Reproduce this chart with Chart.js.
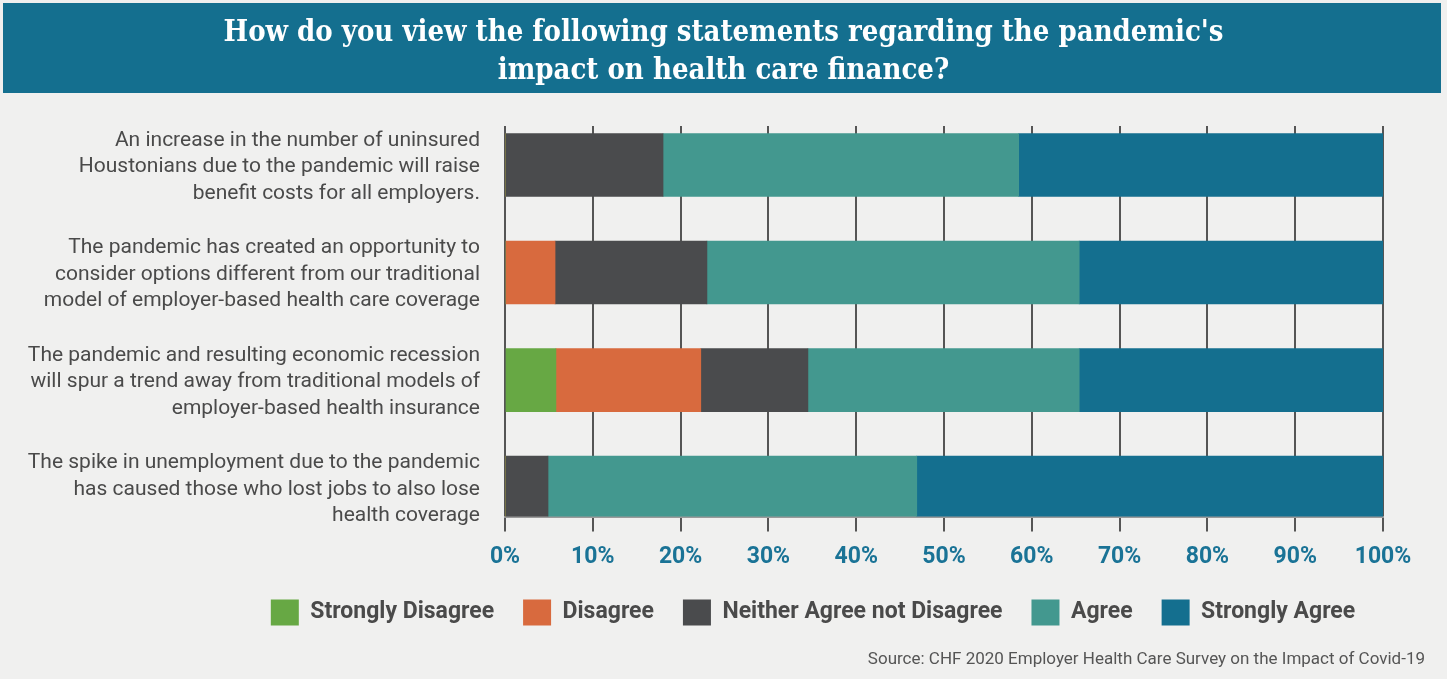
<!DOCTYPE html>
<html><head><meta charset="utf-8">
<script src="https://cdn.jsdelivr.net/npm/chart.js@4.4.1/dist/chart.umd.min.js"></script>
<style>html,body{margin:0;padding:0;background:#f0f0ef;}#wrap{width:1447px;height:679px;}</style>
</head><body><div id="wrap"><canvas id="c" width="1447" height="679"></canvas></div>
<script>
const categories = [
  ["An increase in the number of uninsured", "Houstonians due to the pandemic will raise", "benefit costs for all employers."],
  ["The pandemic has created an opportunity to", "consider options different from our traditional", "model of employer-based health care coverage"],
  ["The pandemic and resulting economic recession", "will spur a trend away from traditional models of", "employer-based health insurance"],
  ["The spike in unemployment due to the pandemic", "has caused those who lost jobs to also lose", "health coverage"]
];
const seriesNames = ["Strongly Disagree", "Disagree", "Neither Agree not Disagree", "Agree", "Strongly Agree"];
const stronglyDisagree = [0, 0, 5.8, 0];
const disagree = [0, 5.7, 16.5, 0];
const neither = [18.0, 17.3, 12.2, 4.9];
const agree = [40.5, 42.4, 30.9, 42.0];
const stronglyAgree = [41.5, 34.6, 34.6, 53.1];
const tickValues = [0,10,20,30,40,50,60,70,80,90,100];
const titleLines = ["How do you view the following statements regarding the pandemic's", "impact on health care finance?"];
const sourceText = "Source: CHF 2020 Employer Health Care Survey on the Impact of Covid-19";

const colors = ["#67a844", "#d86a3e", "#4a4b4d", "#43988f", "#146f8f"];
const values = [stronglyDisagree, disagree, neither, agree, stronglyAgree];

const bgPlugin = {
  id: 'bg',
  beforeDraw(chart) {
    const W = chart.width;
    const t = chart.titleBlock;
    if (t) { t.left = 0; t.right = W; t.width = W; }
    const lg = chart.legend;
    if (lg) { const w = lg.right - lg.left; const c = 813; lg.left = c - w / 2; lg.right = c + w / 2; }
    for (const b of chart.boxes) {
      if (b !== t && b.options && b.options.text === sourceText) { b.left = 0; b.right = W - 22; b.width = W - 22; }
    }
    const ctx = chart.ctx;
    ctx.save();
    ctx.fillStyle = '#f0f0ef';
    ctx.fillRect(0, 0, chart.width, chart.height);
    ctx.fillStyle = '#146f8f';
    ctx.fillRect(3, 3, 1438, 90);
    ctx.restore();
  }
};

new Chart(document.getElementById('c'), {
  type: 'bar',
  data: {
    datasets: seriesNames.map((n, i) => ({
      label: n,
      data: values[i].map((v, j) => ({ x: v, y: j })),
      backgroundColor: colors[i],
      borderWidth: 0,
      barThickness: 63
    }))
  },
  options: {
    indexAxis: 'y',
    responsive: false,
    animation: false,
    devicePixelRatio: 1,
    layout: { padding: { left: 0, right: 64, top: 0, bottom: 0 } },
    scales: {
      x: {
        type: 'linear',
        stacked: true,
        min: 0, max: 100,
        afterBuildTicks(scale) { scale.ticks = tickValues.map(v => ({ value: v })); },
        afterFit(scale) { scale.height = 54; },
        ticks: {
          callback: v => v + '%',
          color: '#1a7396',
          font: { family: 'Roboto, "Liberation Sans", sans-serif', weight: 'bold', size: 23 },
          padding: 12,
          maxRotation: 0
        },
        grid: { color: '#555555', lineWidth: 2, tickLength: 15, drawTicks: true },
        border: { display: true, color: '#9a9a9a', width: 2 }
      },
      y: {
        type: 'linear',
        reverse: true,
        stacked: true,
        offset: false,
        min: -0.363, max: 3.27,
        afterBuildTicks(scale) { scale.ticks = categories.map((c, i) => ({ value: i })); },
        afterFit(scale) { scale.width = 505; },
        ticks: {
          callback: (v, i) => categories[i],
          autoSkip: false,
          color: '#4a4a4a',
          font: { family: 'Roboto, "Liberation Sans", sans-serif', size: 21, lineHeight: 1.26 },
          padding: 25,
          labelOffset: 2
        },
        grid: { display: false, drawTicks: false, offset: false },
        border: { display: false }
      }
    },
    plugins: {
      title: {
        display: true,
        text: titleLines,
        color: '#ffffff',
        font: { family: '"DejaVu Serif Condensed", "DejaVu Serif", serif', weight: 'bold', size: 29, lineHeight: 1.31 },
        padding: { top: 14, bottom: 36 }
      },
      legend: {
        position: 'bottom',
        labels: {
          color: '#4a4a4a',
          font: { family: 'Roboto, "Liberation Sans", sans-serif', weight: 'bold', size: 23 },
          boxWidth: 28, boxHeight: 26,
          padding: 29
        }
      },
      subtitle: {
        display: true,
        position: 'bottom',
        align: 'end',
        text: sourceText,
        color: '#555555',
        font: { family: 'Roboto, "Liberation Sans", sans-serif', size: 17 },
        padding: { top: 14, bottom: 9 }
      },
      tooltip: { enabled: false }
    }
  },
  plugins: [bgPlugin]
});
</script></body></html>
